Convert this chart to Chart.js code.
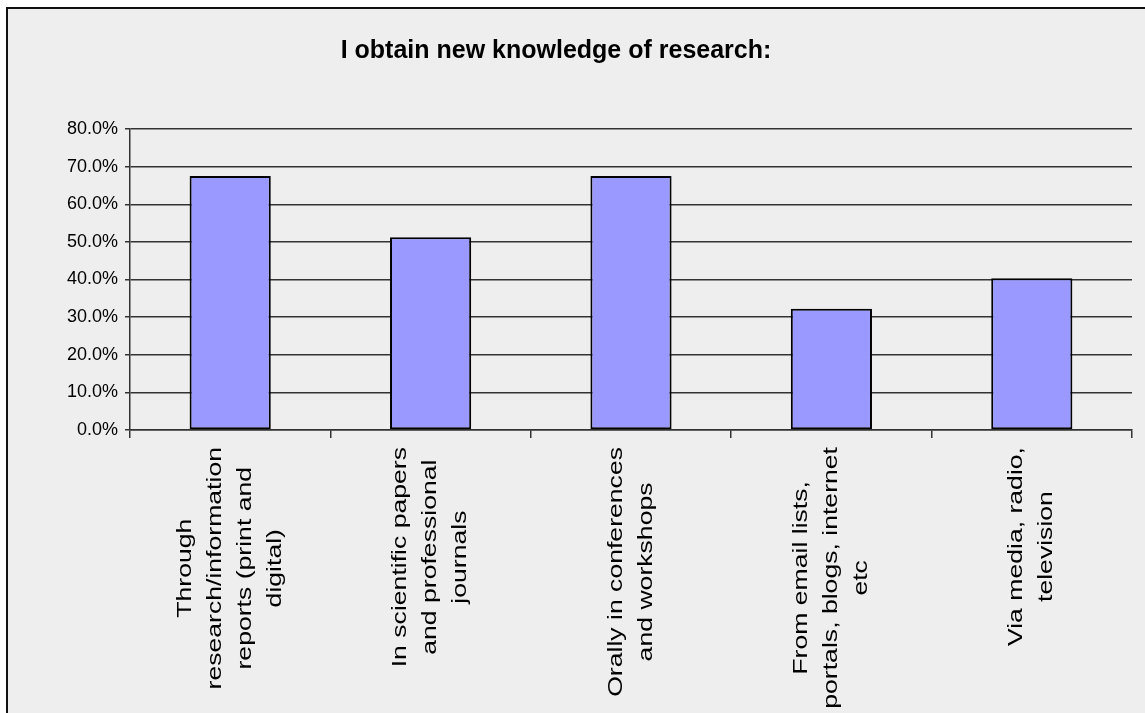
<!DOCTYPE html>
<html>
<head>
<meta charset="utf-8">
<script src="https://cdn.jsdelivr.net/npm/chart.js@4.4.1/dist/chart.umd.min.js"></script>
<style>
  html, body { margin: 0; padding: 0; background: #ffffff; }
  #frame {
    position: absolute; left: 6px; top: 7px; right: 0; bottom: 0;
    border-top: 2px solid #111; border-left: 2px solid #111;
    background: #eeeeee;
  }
  #frame canvas { display: block; }
</style>
</head>
<body>
<div id="frame"><canvas id="c" width="1137" height="704"></canvas></div>
<script>
// Survey answers: share of respondents per source of new research knowledge
const categories = [
  ["Through", "research/information", "reports (print and", "digital)"],
  ["In scientific papers", "and professional", "journals"],
  ["Orally in conferences", "and workshops"],
  ["From email lists,", "portals, blogs, internet", "etc"],
  ["Via media, radio,", "television"]
];
const shares = [67.5, 51.2, 67.5, 32.2, 40.3];
const yTicks = { min: 0, max: 80, step: 10 };
const chartTitle = "I obtain new knowledge of research:";

// Chart heading plus rotated, line-centred category labels under the x axis
const chartText = {
  id: 'chartText',
  afterDraw(chart) {
    const x = chart.scales.x;
    const ctx = chart.ctx;
    ctx.save();

    ctx.font = 'bold 25px "Liberation Sans", Arial, sans-serif';
    ctx.fillStyle = '#000';
    ctx.textAlign = 'center';
    ctx.textBaseline = 'alphabetic';
    ctx.fillText(chartTitle, 548, 49);

    const stretch = 1.33;
    const lineGap = 30;
    ctx.font = '20px "Liberation Sans", Arial, sans-serif';
    ctx.textBaseline = 'middle';
    categories.forEach((lines, i) => {
      const cx = x.getPixelForValue(i);
      const maxW = Math.max(...lines.map(l => ctx.measureText(l).width)) * stretch;
      const cy = x.top + 17 + maxW / 2;
      lines.forEach((line, j) => {
        const lx = cx + (j - (lines.length - 1) / 2) * lineGap;
        ctx.save();
        ctx.translate(lx, cy);
        ctx.rotate(-Math.PI / 2);
        ctx.scale(stretch, 1);
        ctx.fillText(line, 0, 0);
        ctx.restore();
      });
    });
    ctx.restore();
  }
};

new Chart(document.getElementById('c'), {
  type: 'bar',
  data: {
    labels: categories.map(l => l.join(' ')),
    datasets: [{
      data: shares,
      backgroundColor: '#9999ff',
      borderColor: '#000000',
      borderWidth: 2,
      borderSkipped: false,
      categoryPercentage: 0.45,
      barPercentage: 0.9
    }]
  },
  options: {
    responsive: false,
    animation: false,
    layout: { padding: { left: 50, right: 13, top: 120, bottom: 275 } },
    plugins: {
      legend: { display: false },
      tooltip: { enabled: false },
      title: { display: false }
    },
    scales: {
      x: {
        offset: true,
        grid: {
          offset: true,
          drawOnChartArea: false,
          drawTicks: true,
          tickLength: 8,
          color: '#333',
          lineWidth: 1.5
        },
        border: { display: true, color: '#333', width: 1.5 },
        ticks: { display: false },
        afterFit(s) { s.height = 8; }
      },
      y: {
        min: yTicks.min,
        max: yTicks.max,
        grid: {
          color: '#333',
          lineWidth: 1.5,
          drawTicks: true,
          tickLength: 5
        },
        border: { display: true, color: '#333', width: 1.5 },
        ticks: {
          stepSize: yTicks.step,
          padding: 7,
          color: '#000',
          font: { family: '"Liberation Sans", Arial, sans-serif', size: 18 },
          callback: v => v.toFixed(1) + '%'
        },
        afterFit(s) { s.width = 72; }
      }
    }
  },
  plugins: [chartText]
});
</script>
</body>
</html>
